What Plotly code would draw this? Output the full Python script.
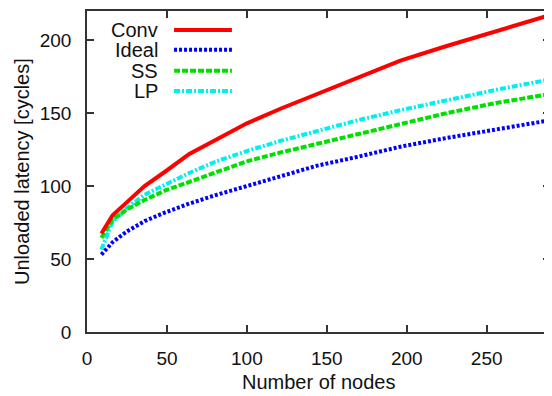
import plotly.graph_objects as go

nodes = [9, 16, 25, 36, 49, 64, 81, 100, 121, 144, 169, 196, 225, 256, 289]
conv = [67.5, 80, 89, 100, 110, 122, 132, 143, 153, 163, 174, 186, 196, 206, 217]
ideal = [53, 61.5, 69, 76, 82, 88, 94, 100, 107, 114, 120, 127, 133, 139, 145]
ss = [64.5, 77, 84, 90.5, 97, 103, 110, 117, 123, 129, 136, 143, 150, 157, 163]
lp = [56.5, 75.5, 85, 94, 101, 109, 117, 124, 131, 138, 145, 152, 159, 166, 173]

series_names = ["Conv", "Ideal", "SS", "LP"]
series_vals = [conv, ideal, ss, lp]
colors = ["#ff0000", "#0000ff", "#00e000", "#00f0f0"]
dashes = ["solid", "3px,2px", "6px,2px", "6px,2px,2px,2px"]

x_ticks = [0, 50, 100, 150, 200, 250]
y_ticks = [0, 50, 100, 150, 200]

FS = 19
fig = go.Figure()
for name, vals, c, d in reversed(list(zip(series_names, series_vals, colors, dashes))):
    fig.add_trace(go.Scatter(x=nodes, y=vals, mode="lines", name=name,
                             line=dict(color=c, width=4, dash=d), showlegend=False))

# gnuplot-style legend: text right-aligned, sample to the right
leg_y = [0.941, 0.879, 0.814, 0.751]
for name, c, d, ly in zip(series_names, colors, dashes, leg_y):
    fig.add_annotation(x=0.158, y=ly, xref="paper", yref="paper", text=name,
                       showarrow=False, xanchor="right", yanchor="middle",
                       font=dict(size=20, color="#111"))
    fig.add_shape(type="line", xref="paper", yref="paper",
                  x0=0.188, x1=0.313, y0=ly, y1=ly,
                  line=dict(color=c, width=4, dash=d))

# axis titles
fig.add_annotation(x=0.5, y=-0.196, xref="paper", yref="paper", text="Number of nodes",
                   showarrow=False, xanchor="center", yanchor="bottom",
                   font=dict(size=20, color="#111"))
fig.add_annotation(x=-0.1415, y=0.5, xref="paper", yref="paper",
                   text="Unloaded latency [cycles]", textangle=-90,
                   showarrow=False, xanchor="center", yanchor="middle",
                   font=dict(size=20, color="#111"))

axis_common = dict(showline=True, linecolor="#333", linewidth=1.5, mirror="ticks",
                   ticks="inside", ticklen=7, tickcolor="#333", tickwidth=1.5,
                   showgrid=False, zeroline=False, automargin=False,
                   tickfont=dict(size=FS, color="#111"))

fig.update_xaxes(range=[0, 289.6], tickvals=x_ticks, ticklabelstandoff=8, **axis_common)
fig.update_yaxes(range=[0, 220], tickvals=y_ticks, ticklabelstandoff=10, **axis_common)

# page body has an 8px margin, so the figure is sized to fit the window exactly
fig.update_layout(width=544, height=388, margin=dict(l=79, r=2, t=3, b=64),
                  paper_bgcolor="white", plot_bgcolor="white",
                  font=dict(family="Liberation Sans, Arial, sans-serif"))

fig.write_html("out.html")
